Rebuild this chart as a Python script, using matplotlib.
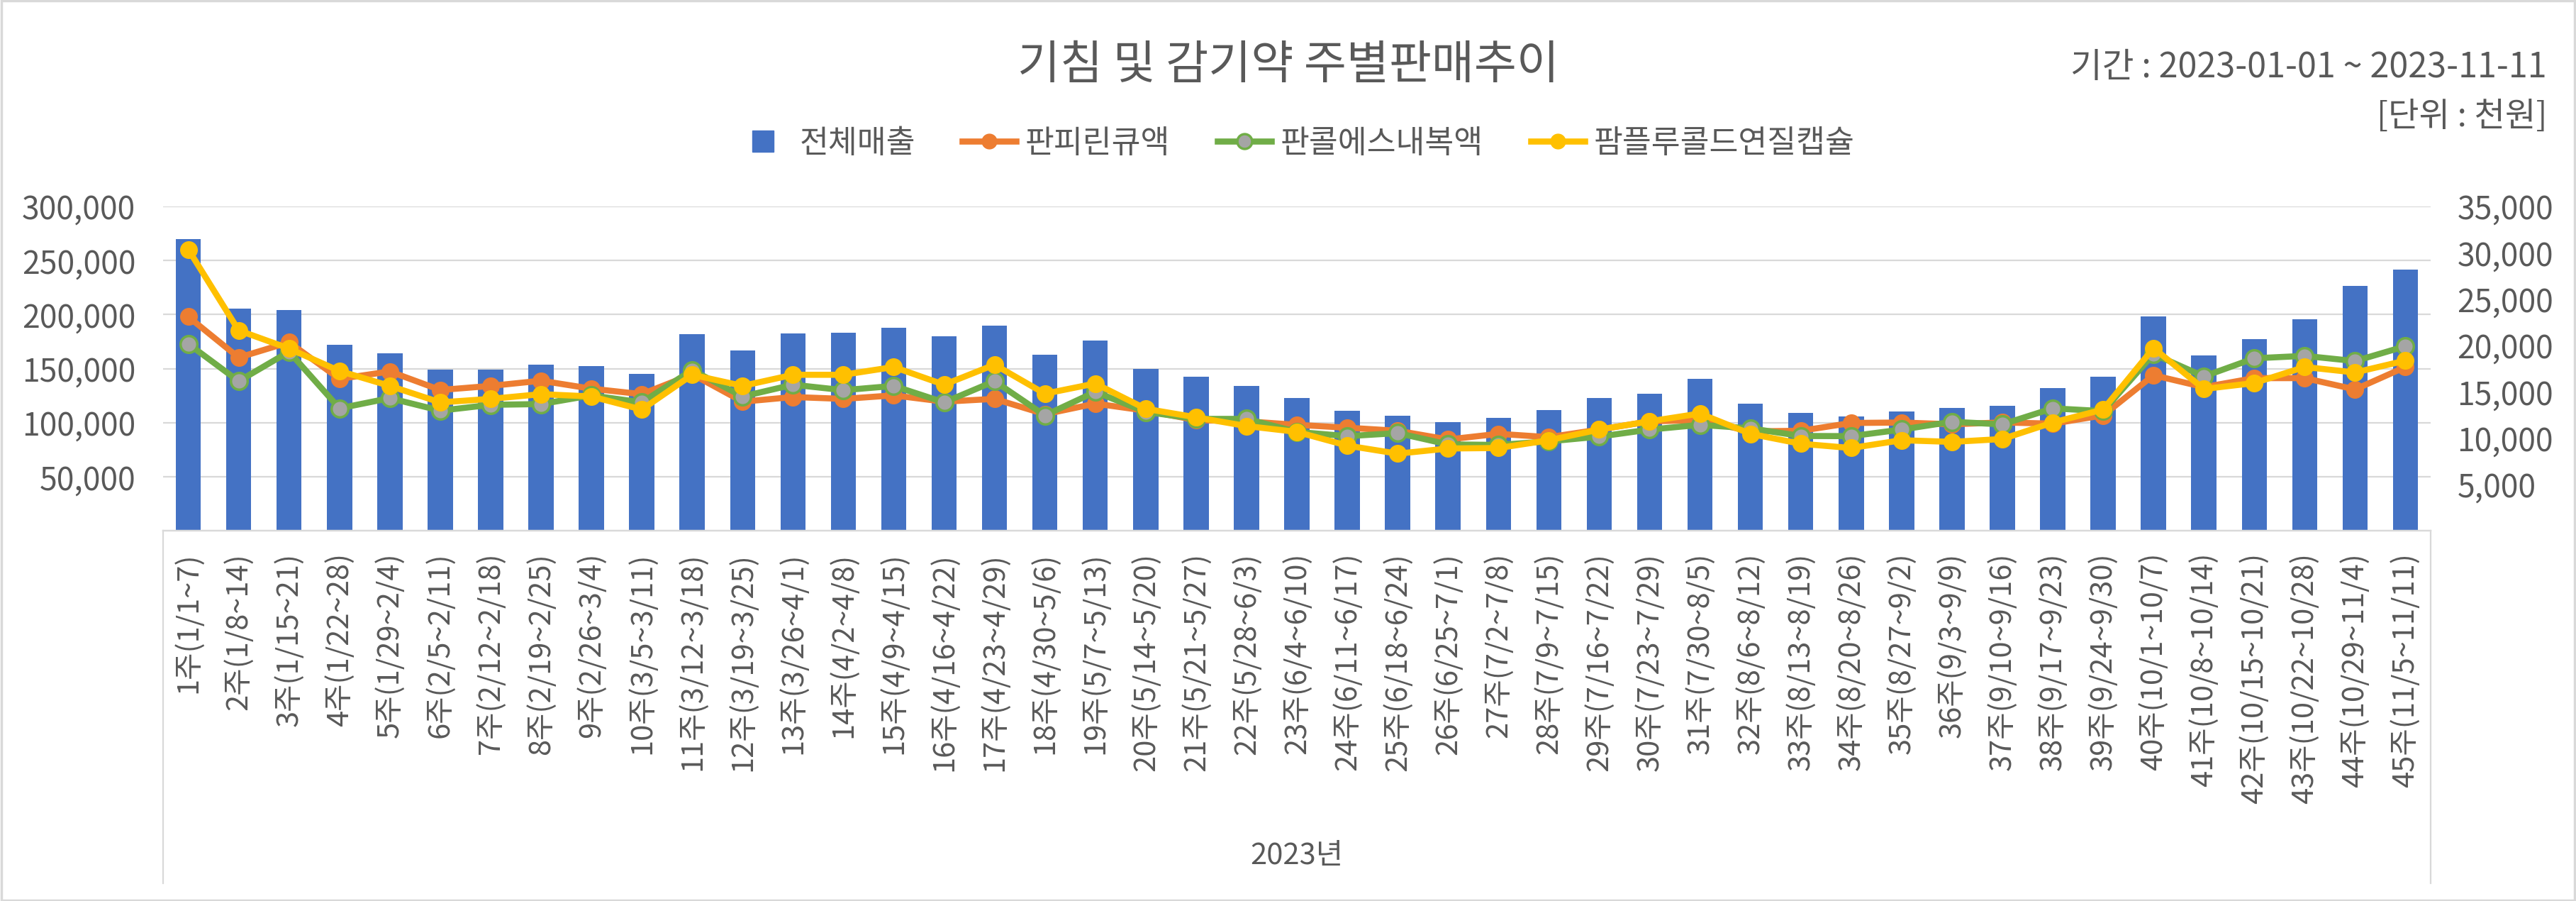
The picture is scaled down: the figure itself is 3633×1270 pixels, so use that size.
import matplotlib
matplotlib.use("Agg")
import matplotlib.pyplot as plt
from matplotlib.lines import Line2D
from matplotlib.patches import Rectangle
from matplotlib.ticker import FuncFormatter
import numpy as np

plt.rcParams['font.family'] = ['Noto Sans CJK KR', 'DejaVu Sans']

# week labels
weeks = [
    "1주(1/1~7)", "2주(1/8~14)", "3주(1/15~21)", "4주(1/22~28)", "5주(1/29~2/4)",
    "6주(2/5~2/11)", "7주(2/12~2/18)", "8주(2/19~2/25)", "9주(2/26~3/4)", "10주(3/5~3/11)",
    "11주(3/12~3/18)", "12주(3/19~3/25)", "13주(3/26~4/1)", "14주(4/2~4/8)", "15주(4/9~4/15)",
    "16주(4/16~4/22)", "17주(4/23~4/29)", "18주(4/30~5/6)", "19주(5/7~5/13)", "20주(5/14~5/20)",
    "21주(5/21~5/27)", "22주(5/28~6/3)", "23주(6/4~6/10)", "24주(6/11~6/17)", "25주(6/18~6/24)",
    "26주(6/25~7/1)", "27주(7/2~7/8)", "28주(7/9~7/15)", "29주(7/16~7/22)", "30주(7/23~7/29)",
    "31주(7/30~8/5)", "32주(8/6~8/12)", "33주(8/13~8/19)", "34주(8/20~8/26)", "35주(8/27~9/2)",
    "36주(9/3~9/9)", "37주(9/10~9/16)", "38주(9/17~9/23)", "39주(9/24~9/30)", "40주(10/1~10/7)",
    "41주(10/8~10/14)", "42주(10/15~10/21)", "43주(10/22~10/28)", "44주(10/29~11/4)", "45주(11/5~11/11)",
]

# 전체매출 (left axis, 천원)
total = [270000, 205500, 204000, 172000, 164000, 149200, 149200, 153800, 152500, 145200,
         181800, 166700, 182500, 183300, 187800, 180000, 189800, 162900, 175900, 149800,
         142500, 134000, 123200, 111200, 106700, 100800, 104700, 111900, 123200, 126900,
         140700, 117300, 109300, 106000, 110600, 113900, 115900, 132200, 142600, 198400,
         162400, 177400, 195800, 226500, 241600]

# 판피린큐액 (right axis)
panpyrin = [23100, 18700, 20350, 16400, 17200, 15200, 15640, 16200, 15340, 14750,
            16900, 13940, 14440, 14240, 14620, 13940, 14240, 12590, 13730, 12970,
            11950, 11820, 11440, 11130, 10800, 9860, 10470, 10110, 10930, 11820,
            11950, 10730, 10800, 11640, 11690, 11500, 11700, 11570, 12460, 16790,
            15510, 16480, 16480, 15260, 17680]

# 판콜에스내복액 (right axis)
pancol = [20180, 16150, 19330, 13220, 14320, 12970, 13600, 13680, 14620, 13860,
          17350, 14500, 15770, 15180, 15640, 13860, 16150, 12460, 15000, 12840,
          12080, 12080, 10680, 10220, 10550, 9330, 9270, 9660, 10170, 10930,
          11440, 11060, 10240, 10220, 10930, 11770, 11490, 13220, 12920, 19080,
          16660, 18620, 18880, 18320, 19920]

# 팜플루콜드연질캡슐 (right axis)
pamflu = [30360, 21630, 19670, 17250, 15640, 13860, 14240, 14750, 14500, 13090,
          16840, 15640, 16840, 16840, 17680, 15770, 17930, 14800, 15900, 13170,
          12250, 11310, 10680, 9200, 8330, 8890, 8940, 9780, 10930, 11820,
          12660, 10470, 9400, 8940, 9780, 9600, 9910, 11690, 13090, 19720,
          15310, 15950, 17680, 17090, 18370]

series_names = ["전체매출", "판피린큐액", "판콜에스내복액", "팜플루콜드연질캡슐"]

TXT = '#595959'
GRID = '#D9D9D9'
BLUE = '#4472C4'
ORANGE = '#ED7D31'
GREEN = '#70AD47'
GRAY = '#A5A5A5'
YELLOW = '#FFC000'

W, H = 3633, 1270
fig = plt.figure(figsize=(W / 100, H / 100), dpi=100)

left, right, top, bottom = 230, 3428, 291, 748.3
ax = fig.add_axes([left / W, 1 - bottom / H, (right - left) / W, (bottom - top) / H])
ax2 = ax.twinx()

x = np.arange(len(weeks))
ax.bar(x, total, width=0.5, color=BLUE, zorder=2)
ax.set_xlim(-0.5, len(weeks) - 0.5)
ax.set_ylim(0, 300000)
ax.set_yticks(np.arange(50000, 300001, 50000))
ax.yaxis.grid(True, color=GRID, lw=1.6, zorder=0)
ax.set_axisbelow(True)
fmt = FuncFormatter(lambda v, p: f"{int(v):,}")
ax.yaxis.set_major_formatter(fmt)

lw = 6.2
ms = 17
ax2.plot(x, panpyrin, color=ORANGE, lw=lw, marker='o', ms=ms, mfc=ORANGE, mec=ORANGE)
ax2.plot(x, pancol, color=GREEN, lw=lw, marker='o', ms=ms, mfc=GRAY, mec=GREEN, mew=2.5)
ax2.plot(x, pamflu, color=YELLOW, lw=lw, marker='o', ms=ms, mfc=YELLOW, mec=YELLOW)
ax2.set_ylim(0, 35000)
ax2.set_yticks(np.arange(5000, 35001, 5000))
ax2.yaxis.set_major_formatter(fmt)

ax.set_xticks(x)
ax.set_xticklabels(weeks, rotation=90, va='top', ha='center')

for a in (ax, ax2):
    for s in ('top', 'left', 'right'):
        a.spines[s].set_visible(False)
    a.spines['bottom'].set_color(GRID)
    a.spines['bottom'].set_linewidth(1.6)
ax.tick_params(axis='x', length=0, pad=22, labelsize=30, labelcolor=TXT)
ax.tick_params(axis='y', length=0, pad=28, labelsize=32, labelcolor=TXT)
ax2.tick_params(axis='y', length=0, pad=27, labelsize=32, labelcolor=TXT)

# multi-level category box lines
for xp in (left, right):
    fig.add_artist(Line2D([xp / W, xp / W], [1 - bottom / H, 1 - 1245 / H],
                          color=GRID, lw=1.6, transform=fig.transFigure))
fig.text((left + right) / 2 / W, 1 - 1207 / H, "2023년", ha='center', va='center',
         fontsize=30, color=TXT)

# titles
fig.text(0.5, 1 - 93 / H, "기침 및 감기약 주별판매추이", ha='center', va='center',
         fontsize=47, color=TXT)
fig.text(3592 / W, 1 - 95 / H, "기간 : 2023-01-01 ~ 2023-11-11", ha='right', va='center',
         fontsize=35, color=TXT)
fig.text(3592 / W, 1 - 165 / H, "[단위 : 천원]", ha='right', va='center',
         fontsize=34, color=TXT)

# legend
handles = [
    Line2D([], [], ls='none', marker='s', ms=22, color=BLUE),
    Line2D([], [], color=ORANGE, lw=lw, marker='o', ms=15, mfc=ORANGE, mec=ORANGE),
    Line2D([], [], color=GREEN, lw=lw, marker='o', ms=15, mfc=GRAY, mec=GREEN, mew=2.5),
    Line2D([], [], color=YELLOW, lw=lw, marker='o', ms=15, mfc=YELLOW, mec=YELLOW),
]
fig.legend(handles, series_names, loc='center', bbox_to_anchor=(1827 / W, 1 - 202 / H),
           ncol=4, frameon=False, fontsize=32, labelcolor=TXT, handlelength=1.7,
           handletextpad=0.3, columnspacing=1.5)

# chart border
fig.add_artist(Rectangle((0.0005, 0.001), 0.999, 0.998, fill=False, edgecolor=GRID,
                         lw=2.5, transform=fig.transFigure))

fig.savefig("out.png", dpi=100)
